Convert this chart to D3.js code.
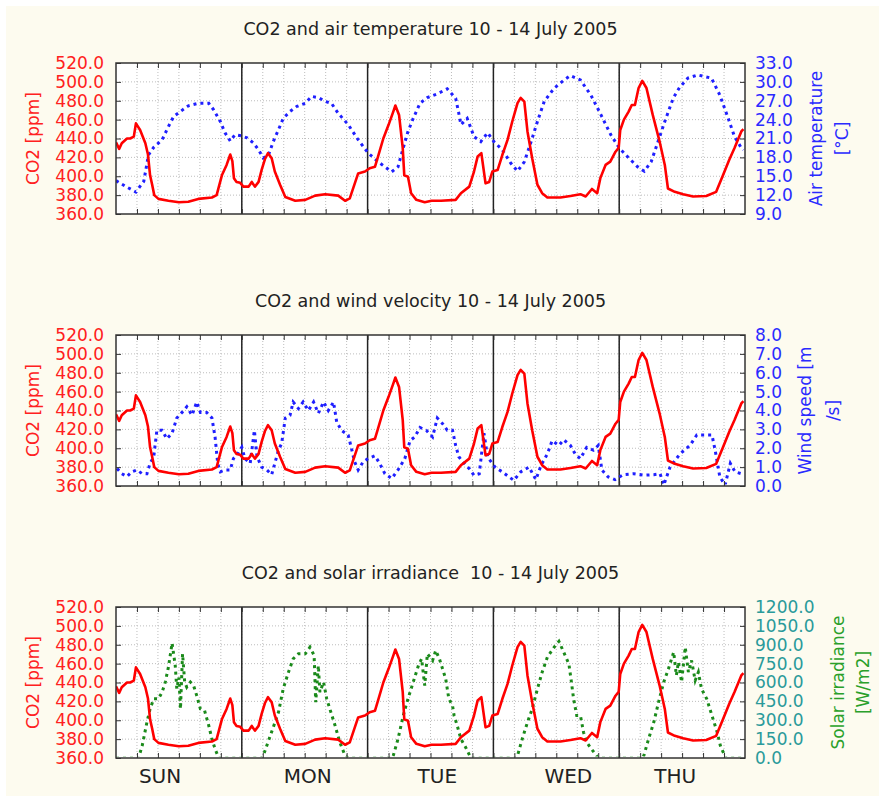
<!DOCTYPE html>
<html>
<head>
<meta charset="utf-8">
<style>
  body { margin: 0; background: #fff; }
  svg { display: block; }
  text { font-family: "DejaVu Sans", sans-serif; }
</style>
<script src="https://cdn.jsdelivr.net/npm/d3@7"></script>
</head>
<body>
<div id="container"></div>
<script>
// hours from Sunday 00:00, 10 July 2005
const co2 = [[0,436],[0.6,429],[1.1,435],[2.1,440],[2.7,440],[3.4,442],[3.8,456],[4.6,449],[5.6,435],[6.1,423],[6.5,401],[6.9,391],[7.3,380],[8.1,376],[10,374],[12,372.5],[13.8,373],[15.7,376],[18.3,377.5],[19.2,380],[20.2,401],[21.1,412],[21.8,423],[22.2,416],[22.5,398],[23,394],[23.7,393],[24.3,389],[25.3,389],[25.9,394],[26.5,389],[27.2,394],[27.8,407],[28.4,418],[29,424.5],[29.7,419],[30.3,405],[31.3,391],[32.3,378],[34.2,374],[36.1,375],[38,379.5],[39.9,381],[42.4,379.5],[43.7,374],[44.6,376.5],[46.2,403],[47.5,405],[48.4,408.5],[49.4,410],[50,421],[51,440],[52,454.5],[52.9,468.5],[53.3,475],[54,465],[54.7,430],[55,401],[55.7,399.5],[56.3,382],[57.3,375],[58.9,372.5],[60.2,374],[62,374],[64.8,375],[65.8,382],[67.4,389],[68.3,405],[69,421],[69.7,424.5],[70.1,408.5],[70.5,392.5],[71.2,394],[71.8,405],[72.8,406.5],[73.7,422.5],[74.7,438.5],[75.6,458],[76.6,477.5],[77.2,483],[77.9,479],[78.5,447.5],[79.4,419],[80.4,391],[81.3,382],[82.3,377.5],[84.8,377.5],[86.7,379],[88.6,381],[89.6,378.5],[90.8,386.5],[91.8,382],[92.4,398],[93.4,412],[94.3,415.5],[95.3,426],[95.9,430],[96.2,449],[96.9,460],[97.8,468.5],[98.4,475.5],[99,475.5],[99.7,493.5],[100.4,501],[101.2,493.5],[102.4,465],[103.7,437],[104.7,412],[105.3,387],[106.6,383.5],[108.2,381],[110.1,378.5],[112.6,379],[114.5,383.5],[115.8,401],[117,417.5],[118,430],[119.3,447.5],[119.7,450]];

const airTemp = [[0,14.3],[1.8,13.4],[3.8,12.5],[5.3,14.2],[6.2,18.4],[7.2,19.6],[8.8,20.8],[10,22.9],[11,24.5],[12.3,25.3],[13.8,26.2],[15.7,26.6],[17.7,26.6],[18.6,25.6],[19.9,23.7],[20.8,21.9],[21.8,20.6],[22.7,21.6],[24,21.4],[25,21.1],[26.2,20.3],[27.2,19.2],[28.1,17.9],[29.1,18.4],[30,20.5],[31,22.4],[31.9,24.2],[33.2,25.3],[34.5,26.1],[36.1,26.6],[37.3,27.7],[38.6,27.5],[39.9,26.9],[41.1,26.6],[42.4,25],[44.3,23.2],[46.2,20.8],[48.1,18.7],[50,17.3],[52.6,15.7],[53.8,16.5],[54.8,19.5],[55.7,22.1],[56.7,24.2],[58,26.6],[59.4,27.5],[61.3,28.1],[63.2,28.9],[64.8,27.4],[65.4,25],[65.8,23.2],[67,24.2],[68.3,21.3],[69.6,20.5],[70.9,21.9],[72.1,20.5],[73.7,19.2],[75.3,17.1],[76.6,15.8],[77.9,17.3],[79.2,20.5],[80.4,23.7],[81.7,26.9],[83.6,29],[85.5,30.3],[86.7,31],[88.6,30.3],[90.6,27.9],[92.5,24.8],[94.4,21.6],[96,19.5],[97.6,18.1],[99.5,16.5],[100.8,15.8],[102.1,17.3],[103.4,20.5],[104.7,23.7],[106.3,27.4],[107.5,29.1],[109.1,30.6],[111,31.1],[113.6,30.6],[115.2,27.9],[116.8,24.2],[118,21.3],[119.3,19.5],[119.7,19.2]];

const windSpeed = [[0.2,0.92],[1.1,0.65],[2.1,0.5],[3,0.75],[4,0.85],[5,0.65],[5.9,0.65],[6.5,1.2],[7.2,1.55],[7.8,2.95],[8.8,2.95],[9.7,2.5],[10.7,2.8],[11.6,3.6],[12.6,3.9],[13.5,4.2],[14.5,3.75],[15.4,4.45],[16.1,3.9],[17.3,3.9],[18.3,3.6],[18.9,2.6],[19.4,1.2],[19.9,0.75],[20.8,0.85],[21.8,0.85],[22.4,1.45],[23,1.6],[24,2.05],[24.6,1.45],[25.6,1.2],[26.4,2.95],[26.9,1.55],[27.8,1.0],[28.8,0.85],[29.7,0.6],[30.3,1.2],[31,1.9],[31.6,2.25],[32.3,3.6],[33.2,3.75],[33.8,4.45],[34.8,4.1],[35.7,4.45],[36.7,4.0],[37.7,4.45],[38.6,3.85],[39.6,4.45],[40.5,4.0],[41.5,4.45],[42.1,3.4],[43,2.95],[44.3,2.7],[45,1.9],[45.5,1.3],[46.2,0.85],[47.2,1.3],[48.1,1.45],[49.4,1.6],[50.3,1.2],[51.3,0.65],[52.6,0.4],[53.8,0.85],[55.1,1.45],[56.1,2.4],[57,2.6],[58,3.1],[59.2,2.95],[60.4,2.6],[61.3,3.6],[62.3,3.3],[63.2,2.95],[64.2,2.95],[64.8,2.15],[65.4,1.55],[66.4,1.2],[67.4,0.92],[68.3,0.57],[69.3,0.65],[70.2,2.8],[70.9,1.55],[71.5,1.3],[72.4,0.97],[73.7,0.75],[75,0.48],[75.9,0.3],[77.2,0.75],[78.8,1.0],[80.1,0.34],[81.1,1.1],[82.3,1.7],[83.2,2.4],[84.5,2.15],[85.4,2.45],[86.7,2.15],[87.6,1.7],[88.6,1.45],[89.8,2.05],[91.1,1.9],[92,2.15],[92.7,0.85],[93.9,0.48],[95.2,0.34],[96.8,0.6],[98.8,0.65],[100.7,0.57],[102.6,0.6],[103.8,0.65],[104.5,0.05],[105.7,1.0],[107.6,1.7],[109.5,2.15],[110.8,2.7],[112.1,2.7],[113.7,2.7],[114.3,1.9],[115.2,0.48],[116.2,0.05],[117.2,1.2],[118.1,0.75],[119.3,0.65],[119.7,0.7]];

const solar = [[0,0],[4.3,0],[5,98],[5.9,284],[6.5,390],[7.2,470],[8.1,470],[8.8,523],[9.4,603],[10,722],[10.7,913],[11.3,735],[11.6,550],[12,640],[12.3,390],[12.7,828],[13.1,603],[13.5,563],[14.2,603],[14.8,576],[15.4,496],[16.1,390],[16.9,377],[17.7,257],[18.3,151],[18.9,72],[19.6,0],[27.8,0],[28.1,19],[29.1,138],[30,244],[31,364],[31.9,550],[32.9,682],[33.8,788],[34.8,828],[36.1,828],[37,881],[37.8,815],[38.1,443],[38.6,735],[38.9,523],[39.6,603],[40.2,470],[40.8,390],[41.8,257],[42.7,125],[43.7,19],[44.3,0],[52.6,0],[52.9,19],[53.8,151],[54.8,337],[55.7,470],[56.7,603],[57.7,735],[58.3,788],[58.9,576],[59.4,828],[60.4,775],[61,855],[61.7,788],[62.3,709],[62.9,629],[63.5,470],[64.2,417],[64.5,337],[65.1,257],[65.8,151],[66.7,85],[67.7,0],[76.3,0],[76.6,19],[77.5,151],[78.5,284],[79.4,390],[80.4,550],[81.3,682],[82.3,802],[83.6,881],[84.5,927],[85.4,842],[86.4,748],[86.8,629],[87.3,470],[87.9,337],[88.6,337],[89.2,204],[89.8,125],[90.7,72],[92,0],[100.4,0],[100.7,19],[101.6,151],[102.6,284],[103.5,443],[104.5,603],[105.4,709],[106.4,842],[106.9,656],[107.3,762],[107.9,603],[108.6,881],[109.2,682],[109.8,775],[110.5,616],[111.1,682],[111.7,550],[112.7,470],[113.7,337],[114.7,204],[115.3,98],[116.3,0],[119.7,0]];

const dayNames = ["SUN", "MON", "TUE", "WED", "THU"];
const dayLabelAt = [8.4, 36.6, 61.3, 86.3, 106.7];
const dayBreaks = [24, 48, 72, 96];
const co2Ticks = d3.range(360, 521, 20);
const tempTicks = d3.range(9, 34, 3);
const windTicks = d3.range(0, 9, 1);
const solarTicks = d3.range(0, 1201, 150);

const W = 879, H = 796;
const left = 116, right = 745, plotH = 151;

const svg = d3.select("#container").append("svg")
  .attr("width", W).attr("height", H);

svg.append("rect").attr("x", 6).attr("y", 6)
  .attr("width", W - 6).attr("height", H - 6).attr("fill", "#fdfbef");

const x = d3.scaleLinear().domain([0, 120]).range([left, right]);
const fmt = d3.format(".1f");

const panels = [
  { top: 63, title: "CO2 and air temperature 10 - 14 July 2005", data: airTemp,
    ticks: tempTicks, color: "#1f1fff", tickColor: "#2a2aff", labelColor: "#2a2aff",
    label: ["Air temperature", "[°C]"], labelX: [816, 842] },
  { top: 335, title: "CO2 and wind velocity 10 - 14 July 2005", data: windSpeed,
    ticks: windTicks, color: "#1f1fff", tickColor: "#2a2aff", labelColor: "#2a2aff",
    label: ["Wind speed [m", "/s]"], labelX: [805, 833] },
  { top: 607, title: "CO2 and solar irradiance  10 - 14 July 2005", data: solar,
    ticks: solarTicks, color: "#1a8a1a", tickColor: "#2a9a9a", labelColor: "#2aa02a",
    label: ["Solar irradiance", "[W/m2]"], labelX: [838, 863] }
];

panels.forEach((p, i) => {
  const g = svg.append("g");
  const bottom = p.top + plotH;
  const yL = d3.scaleLinear().domain([360, 520]).range([bottom, p.top]);
  const yR = d3.scaleLinear().domain(d3.extent(p.ticks)).range([bottom, p.top]);

  g.append("text").attr("x", (left + right) / 2).attr("y", p.top - 28)
    .attr("text-anchor", "middle").attr("font-size", 17.5).attr("fill", "#222")
    .text(p.title.replace(/ /g, "\u00a0"));

  g.append("rect").attr("x", left).attr("y", p.top)
    .attr("width", right - left).attr("height", plotH).attr("fill", "#fff");

  // grid
  g.append("g").selectAll("line").data(co2Ticks.slice(1, -1)).join("line")
    .attr("x1", left).attr("x2", right)
    .attr("y1", d => yL(d)).attr("y2", d => yL(d))
    .attr("stroke", "#bdbdbd").attr("stroke-dasharray", "1,2");
  g.append("g").selectAll("line").data(d3.range(4, 120, 4)).join("line")
    .attr("x1", d => x(d)).attr("x2", d => x(d))
    .attr("y1", p.top).attr("y2", bottom)
    .attr("stroke", "#bdbdbd").attr("stroke-dasharray", "1,2");

  // day separators
  g.append("g").selectAll("line").data(dayBreaks).join("line")
    .attr("x1", d => x(d)).attr("x2", d => x(d))
    .attr("y1", p.top).attr("y2", bottom)
    .attr("stroke", "#222").attr("stroke-width", 1.5);

  const clipId = "clip" + i;
  svg.append("clipPath").attr("id", clipId).append("rect")
    .attr("x", left).attr("y", p.top).attr("width", right - left).attr("height", plotH - 1.6);

  const line2 = d3.line().x(d => x(d[0])).y(d => yR(d[1]));
  g.append("path").attr("d", line2(p.data)).attr("clip-path", `url(#${clipId})`)
    .attr("fill", "none").attr("stroke", p.color).attr("stroke-width", 3)
    .attr("stroke-dasharray", "3,4");

  const line1 = d3.line().x(d => x(d[0])).y(d => yL(d[1]));
  g.append("path").attr("d", line1(co2)).attr("clip-path", `url(#${clipId})`)
    .attr("fill", "none").attr("stroke", "#ff0000").attr("stroke-width", 2.6)
    .attr("stroke-linejoin", "round");

  // axes
  const axL = g.append("g").attr("transform", `translate(${left},0)`)
    .call(d3.axisLeft(yL).tickValues(co2Ticks).tickSizeInner(-5).tickSizeOuter(0)
      .tickPadding(12).tickFormat(fmt));
  const axR = g.append("g").attr("transform", `translate(${right},0)`)
    .call(d3.axisRight(yR).tickValues(p.ticks).tickSizeInner(-5).tickSizeOuter(0)
      .tickPadding(10).tickFormat(fmt));
  const axB = g.append("g").attr("transform", `translate(0,${bottom})`)
    .call(d3.axisBottom(x).tickValues(d3.range(4, 120, 4)).tickSizeInner(-5)
      .tickSizeOuter(0).tickFormat(""));
  const axT = g.append("g").attr("transform", `translate(0,${p.top})`)
    .call(d3.axisTop(x).tickValues(d3.range(4, 120, 4)).tickSizeInner(-5)
      .tickSizeOuter(0).tickFormat(""));
  [axL, axR, axB, axT].forEach(a => {
    a.select(".domain").remove();
    a.selectAll(".tick line").attr("stroke", "#333");
    a.attr("font-family", null).attr("font-size", 17);
  });
  axL.selectAll("text").attr("fill", "#ff2020");
  axR.selectAll("text").attr("fill", p.tickColor);

  g.append("rect").attr("x", left).attr("y", p.top)
    .attr("width", right - left).attr("height", plotH)
    .attr("fill", "none").attr("stroke", "#333").attr("stroke-width", 1.5);

  // axis titles
  const cy = p.top + plotH / 2;
  g.append("text").attr("transform", `translate(33,${cy}) rotate(-90)`)
    .attr("text-anchor", "middle").attr("dy", "0.35em")
    .attr("font-size", 17).attr("fill", "#ff2020").text("CO2 [ppm]");
  p.label.forEach((t, k) => {
    g.append("text").attr("transform", `translate(${p.labelX[k]},${cy}) rotate(-90)`)
      .attr("text-anchor", "middle").attr("dy", "0.35em")
      .attr("font-size", 17).attr("fill", p.labelColor).text(t);
  });

  if (i === panels.length - 1) {
    g.append("g").selectAll("text").data(dayNames).join("text")
      .attr("x", (d, k) => x(dayLabelAt[k])).attr("y", bottom + 25)
      .attr("text-anchor", "middle").attr("font-size", 20).attr("fill", "#222")
      .text(d => d);
  }
});
</script>
</body>
</html>
